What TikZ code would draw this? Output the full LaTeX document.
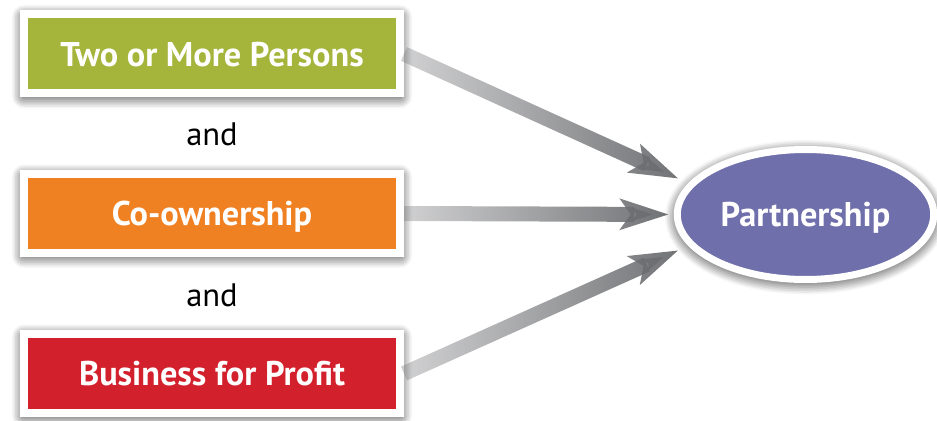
\documentclass[tikz,border=0pt]{standalone}
\usepackage{fontspec}
\setmainfont{PT Sans}
\usetikzlibrary{arrows.meta,shapes.geometric,shadows.blur,fadings}

\definecolor{persgreen}{RGB}{165,180,58}
\definecolor{coorange}{RGB}{240,129,34}
\definecolor{profred}{RGB}{211,32,45}
\definecolor{partpurple}{RGB}{111,111,171}
\definecolor{linkgray}{RGB}{108,109,112}
\tikzfading[name=linkfade, left color=transparent!70, right color=transparent!0]

\begin{document}
\begin{tikzpicture}[
            every node/.style={text depth=0pt},
            glow/.style={blur shadow={shadow xshift=0pt, shadow yshift=-1.5pt, shadow blur radius=7pt,
                shadow blur steps=8, shadow opacity=95}},
            box/.style={rectangle, draw=white, line width=.16cm, minimum width=7.52cm, minimum height=1.58cm,
                text=white, font=\fontsize{19.5}{22}\selectfont\bfseries, glow},
            conj/.style={font=\fontsize{18.5}{21}\selectfont},
            line/.style={line width=.3cm, draw=linkgray, path fading=linkfade,
                -{Stealth[length=.96cm, width=.6cm, inset=.2cm]}},
            ]
        \useasboundingbox (0, 0) rectangle (18.74, 8.4);

        \node[box, fill=persgreen] (0) at (4.24, 7.32) {Two or More Persons};
        \node[conj] (a0) at (4.24, 5.72) {and};
        \node[box, fill=coorange] (1) at (4.24, 4.13) {Co-ownership};
        \node[conj] (a1) at (4.24, 2.50) {and};
        \node[box, fill=profred] (2) at (4.24, 0.93) {Business for Profit};

        \node[ellipse, draw=white, line width=.14cm, fill=partpurple, minimum width=5.08cm, minimum height=2.6cm,
            text=white, font=\fontsize{19.5}{22}\selectfont\bfseries, glow] (3) at (16.11, 4.11) {Partnership};

        \draw[line, shorten >=.22cm] (0.east) -- (3.165);
        \draw[line, shorten >=.1cm] (1.east) -- (3.west);
        \draw[line, shorten >=.22cm] (2.east) -- (3.195);
    \end{tikzpicture}
\end{document}
